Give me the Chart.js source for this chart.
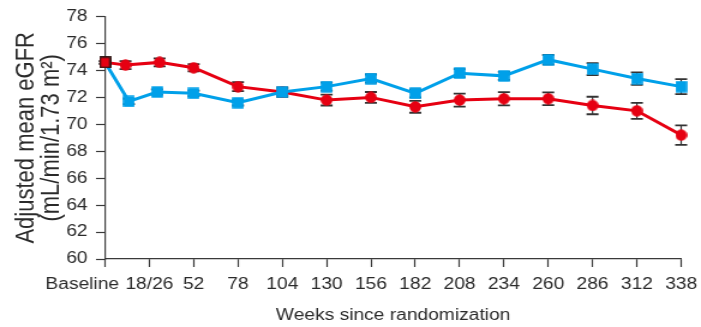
<!DOCTYPE html>
<html>
<head>
<meta charset="utf-8">
<script src="https://cdn.jsdelivr.net/npm/chart.js@4/dist/chart.umd.min.js"></script>
<style>
  html, body { margin: 0; padding: 0; background: #ffffff; overflow: hidden; }
  #wrap { width: 584px; height: 327px; transform: scaleX(1.2003); transform-origin: 0 0; }
  canvas { display: block; }
</style>
</head>
<body>
<div id="wrap"><canvas id="chart" width="584" height="327"></canvas></div>
<script>
// Tick positions (weeks) and their labels on the x axis
const xTickWeeks  = [0, 26, 52, 78, 104, 130, 156, 182, 208, 234, 260, 286, 312, 338];
const xTickLabels = ['Baseline', '18/26', '52', '78', '104', '130', '156', '182', '208', '234', '260', '286', '312', '338'];

// Blue series (squares): visit weeks, adjusted mean eGFR, error half-width
const blueWeeks = [0, 14, 30.5, 52, 78, 104, 130, 156, 182, 208, 234, 260, 286, 312, 338];
const blueMean  = [74.6, 71.7, 72.4, 72.3, 71.6, 72.4, 72.8, 73.4, 72.3, 73.8, 73.6, 74.8, 74.1, 73.4, 72.8];
const blueErr   = [0.1, 0.2, 0.2, 0.2, 0.2, 0.25, 0.3, 0.3, 0.3, 0.3, 0.3, 0.35, 0.45, 0.46, 0.55];

// Red series (circles)
const redWeeks = [0, 12, 32, 52, 78, 104, 130, 156, 182, 208, 234, 260, 286, 312, 338];
const redMean  = [74.6, 74.4, 74.6, 74.2, 72.8, 72.4, 71.8, 72.0, 71.3, 71.8, 71.9, 71.9, 71.4, 71.0, 69.2];
const redErr   = [0.1, 0.3, 0.3, 0.27, 0.33, 0.35, 0.4, 0.4, 0.44, 0.48, 0.49, 0.48, 0.65, 0.59, 0.73];

const RED = '#e60012';
const BLUE = '#00a0e9';
const AXIS = '#3a3a3a';
const TEXT = '#2a2a2a';
const ERR = '#333333';
const FAMILY = '"Liberation Sans", Arial, Helvetica, sans-serif';

// The page is widened horizontally by the wrapper; markers are drawn
// narrower here so they come out round / square after widening.
function makeMarker(kind) {
  const c = document.createElement('canvas');
  c.width = 10; c.height = 12;
  const g = c.getContext('2d');
  if (kind === 'circle') {
    g.fillStyle = RED;
    g.beginPath();
    g.ellipse(5, 6, 4.9, 5.7, 0, 0, Math.PI * 2);
    g.fill();
  } else if (kind === 'square') {
    g.fillStyle = BLUE;
    g.fillRect(0.2, 0.3, 9.6, 11.4);
  } else {
    g.fillStyle = RED;
    g.fillRect(0.5, 0.5, 9, 11);
    g.strokeStyle = '#231815';
    g.lineWidth = 1.4;
    g.strokeRect(0.8, 0.8, 8.4, 10.4);
  }
  return c;
}
const circleImg = makeMarker('circle');
const squareImg = makeMarker('square');
const baseImg = makeMarker('base');

const bluePoints = blueWeeks.map((w, i) => ({ x: w, y: blueMean[i] }));
const redPoints = redWeeks.map((w, i) => ({ x: w, y: redMean[i] }));

// Error bars drawn beneath the lines and markers
const errorBars = {
  id: 'errorBars',
  beforeDatasetsDraw(chart) {
    const { ctx } = chart;
    const xs = chart.scales.x, ys = chart.scales.y;
    const sets = [[blueWeeks, blueMean, blueErr], [redWeeks, redMean, redErr]];
    ctx.save();
    ctx.strokeStyle = ERR;
    sets.forEach(([wk, mean, err]) => {
      wk.forEach((w, i) => {
        const px = xs.getPixelForValue(w);
        const top = ys.getPixelForValue(mean[i] + err[i]);
        const bot = ys.getPixelForValue(mean[i] - err[i]);
        ctx.lineWidth = 1.2;
        ctx.beginPath();
        ctx.moveTo(px, top); ctx.lineTo(px, bot);
        ctx.stroke();
        ctx.lineWidth = 1.8;
        ctx.beginPath();
        ctx.moveTo(px - 5, top); ctx.lineTo(px + 5, top);
        ctx.moveTo(px - 5, bot); ctx.lineTo(px + 5, bot);
        ctx.stroke();
      });
    });
    ctx.restore();
  }
};

// X tick labels; "Baseline" sits to the left of its tick
const xLabels = {
  id: 'xLabels',
  afterDraw(chart) {
    const { ctx } = chart;
    const xs = chart.scales.x;
    ctx.save();
    ctx.font = '16px ' + FAMILY;
    ctx.fillStyle = TEXT;
    ctx.textBaseline = 'middle';
    xTickWeeks.forEach((w, i) => {
      const px = xs.getPixelForValue(w);
      if (i === 0) {
        ctx.textAlign = 'right';
        ctx.fillText(xTickLabels[i], px + 11.7, 285);
      } else {
        ctx.textAlign = 'center';
        ctx.fillText(xTickLabels[i], px, 285);
      }
    });
    ctx.restore();
  }
};

new Chart(document.getElementById('chart'), {
  type: 'line',
  data: {
    datasets: [
      {
        label: 'Blue',
        data: bluePoints,
        borderColor: BLUE,
        borderWidth: 3,
        pointStyle: blueWeeks.map((w, i) => i === 0 ? baseImg : squareImg),
        pointRadius: 6,
        tension: 0,
        clip: false
      },
      {
        label: 'Red',
        data: redPoints,
        borderColor: RED,
        borderWidth: 3,
        pointStyle: circleImg,
        pointRadius: 6,
        tension: 0,
        clip: false
      }
    ]
  },
  options: {
    responsive: false,
    animation: false,
    devicePixelRatio: 1,
    layout: { padding: { top: 14, right: 16.5, bottom: 0, left: 0 } },
    plugins: { legend: { display: false }, tooltip: { enabled: false } },
    scales: {
      x: {
        type: 'linear',
        min: 0,
        max: 338,
        afterBuildTicks: s => { s.ticks = xTickWeeks.map(v => ({ value: v })); },
        afterFit: s => { s.height = 68; },
        grid: { drawOnChartArea: false, drawTicks: true, tickLength: 8, tickColor: AXIS, tickWidth: 1.2 },
        border: { display: true, color: AXIS, width: 1.2 },
        ticks: { display: false },
        title: {
          display: true,
          text: 'Weeks since randomization',
          color: TEXT,
          font: { family: FAMILY, size: 16, lineHeight: 1.2 },
          padding: { top: 0, bottom: 1.4 }
        }
      },
      y: {
        min: 60,
        max: 78,
        afterFit: s => { s.width = 87.5; },
        ticks: { stepSize: 2, color: TEXT, font: { family: FAMILY, size: 16 }, padding: 7 },
        grid: { drawOnChartArea: false, drawTicks: true, tickLength: 7.5, tickColor: AXIS, tickWidth: 1.2 },
        border: { display: true, color: AXIS, width: 1.2 },
        title: {
          display: true,
          text: ['Adjusted mean eGFR', '(mL/min/1.73 m\u00b2)'],
          color: TEXT,
          font: { family: FAMILY, size: 22, lineHeight: 0.95 },
          padding: { top: 11.5, bottom: 0 }
        }
      }
    }
  },
  plugins: [errorBars, xLabels]
});
</script>
</body>
</html>
